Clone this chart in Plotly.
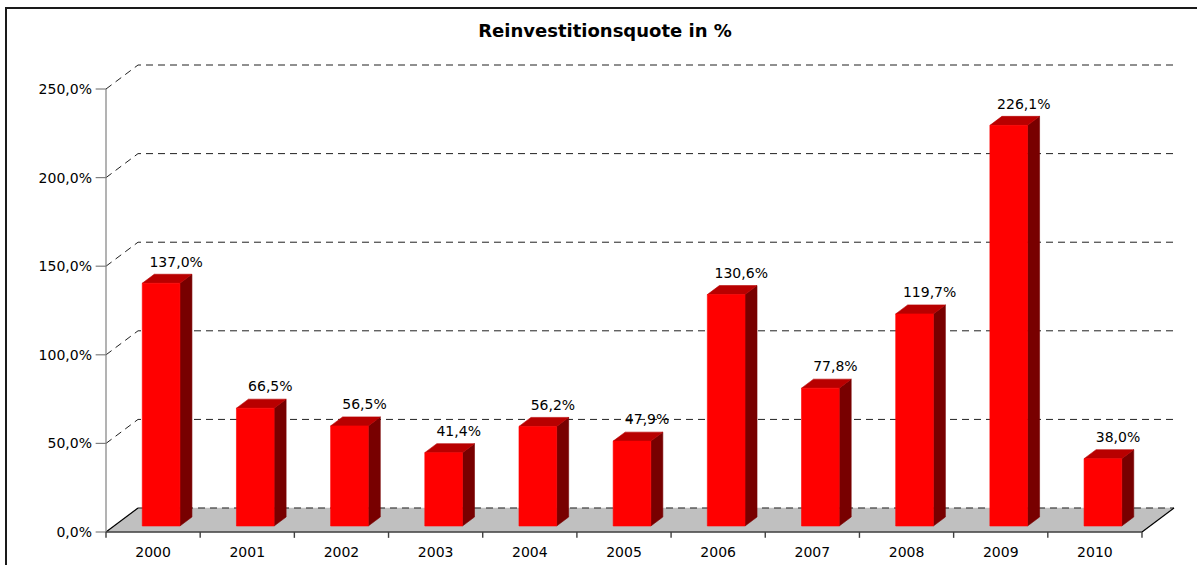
import plotly.graph_objects as go

# Reinvestment ratio per year (percent)
years = ["2000", "2001", "2002", "2003", "2004", "2005",
         "2006", "2007", "2008", "2009", "2010"]
quote = [137.0, 66.5, 56.5, 41.4, 56.2, 47.9, 130.6, 77.8, 119.7, 226.1, 38.0]
y_ticks = [0, 50, 100, 150, 200, 250]

# Oblique 3-D projection: how far the back wall is shifted (x in categories, y in %)
DX = 0.34
DY = 13.54
BAR_LEFT, BAR_RIGHT = 0.30, 0.70      # bar extent inside its category
D_FRONT, D_BACK = 0.25, 0.625          # bar depth as a fraction of the floor depth

FRONT = "#FF0000"
TOP = "#B80000"
SIDE = "#780000"
FONT = "DejaVu Sans, Verdana, sans-serif"

n = len(years)


def pct(v):
    return f"{v:.1f}".replace(".", ",") + "%"


fig = go.Figure()


def poly(xs, ys, fill, line_color=None, width=0.6):
    fig.add_trace(go.Scatter(
        x=xs, y=ys, mode="lines", fill="toself", fillcolor=fill,
        line=dict(color=line_color or fill, width=width),
        hoverinfo="skip", showlegend=False))


def lines(xs, ys, color, width=1.0, dash=None):
    fig.add_trace(go.Scatter(
        x=xs, y=ys, mode="lines",
        line=dict(color=color, width=width, dash=dash),
        hoverinfo="skip", showlegend=False))


# floor
poly([0, DX, n + DX, n, 0], [0, DY, DY, 0, 0], "#C0C0C0", "#C0C0C0", 0.5)

# dashed gridlines: diagonal on the side wall, horizontal on the back wall
gx, gy = [], []
for t in y_ticks:
    if t == 0:
        gx += [DX, n + DX, None]
        gy += [DY, DY, None]
    else:
        gx += [0, DX, n + DX, None]
        gy += [t, t + DY, t + DY, None]
lines(gx, gy, "#202020", 1.0, "7px,5px")

# floor edges
lines([0, DX, None, n, n + DX], [0, DY, None, 0, DY], "#000000", 1.2)

# bars drawn as three faces each
ox0, oy0 = D_FRONT * DX, D_FRONT * DY
ox1, oy1 = D_BACK * DX, D_BACK * DY
for i, v in enumerate(quote):
    xl = i + BAR_LEFT + ox0
    xr = i + BAR_RIGHT + ox0
    yb = oy0
    yt = v + oy0
    sx = ox1 - ox0
    sy = oy1 - oy0
    # right side
    poly([xr, xr + sx, xr + sx, xr, xr], [yb, yb + sy, yt + sy, yt, yb], SIDE)
    # top
    poly([xl, xr, xr + sx, xl + sx, xl], [yt, yt, yt + sy, yt + sy, yt], TOP)
    # front
    poly([xl, xr, xr, xl, xl], [yb, yb, yt, yt, yb], FRONT)

# value labels above the bars
fig.add_trace(go.Scatter(
    x=[i + 0.745 for i in range(n)],
    y=[v + 14.8 for v in quote],
    mode="text", text=[pct(v) for v in quote],
    textposition="middle center",
    textfont=dict(family=FONT, size=14, color="#000000"),
    hoverinfo="skip", showlegend=False, cliponaxis=False))

# value axis line and ticks
vx, vy = [0, 0, None], [0, y_ticks[-1], None]
for t in y_ticks:
    vx += [-0.11, 0, None]
    vy += [t, t, None]
lines(vx, vy, "#808080", 1.2)

# category axis line and boundary ticks
cx, cy = [0, n, None], [0, 0, None]
for k in range(n + 1):
    cx += [k, k, None]
    cy += [0, -3.3, None]
lines(cx, cy, "#404040", 1.4)

fig.update_layout(
    width=1197, height=565,
    margin=dict(l=95, r=18, t=60, b=27, autoexpand=False),
    plot_bgcolor="#FFFFFF", paper_bgcolor="#FFFFFF",
    separators=",.",
    font=dict(family=FONT, size=14, color="#000000"),
    title=dict(text="<b>Reinvestitionsquote in %</b>",
               font=dict(family=FONT, size=18, color="#000000"),
               xref="container", x=605 / 1197, xanchor="center",
               yref="container", y=1 - 31 / 565, yanchor="middle"),
    xaxis=dict(range=[-0.1168, 11.393], showgrid=False, zeroline=False,
               showline=False, ticks="", tickmode="array",
               tickvals=[i + 0.5 for i in range(n)], ticktext=years,
               ticklabelstandoff=4, automargin=False, fixedrange=True,
               tickfont=dict(family=FONT, size=14, color="#000000")),
    yaxis=dict(range=[-3.386, 266.37], showgrid=False, zeroline=False,
               showline=False, ticks="", tickmode="array",
               tickvals=y_ticks, ticktext=[pct(t) for t in y_ticks],
               ticklabelstandoff=2, automargin=False, fixedrange=True,
               tickfont=dict(family=FONT, size=14, color="#000000")),
    shapes=[dict(type="rect", xref="paper", yref="paper",
                 x0=(6 - 95) / 1084, x1=1.2, y0=-0.3, y1=(538 - 8) / 478,
                 line=dict(color="#1A1A1A", width=2), layer="above")],
)

fig.write_html("out.html")
